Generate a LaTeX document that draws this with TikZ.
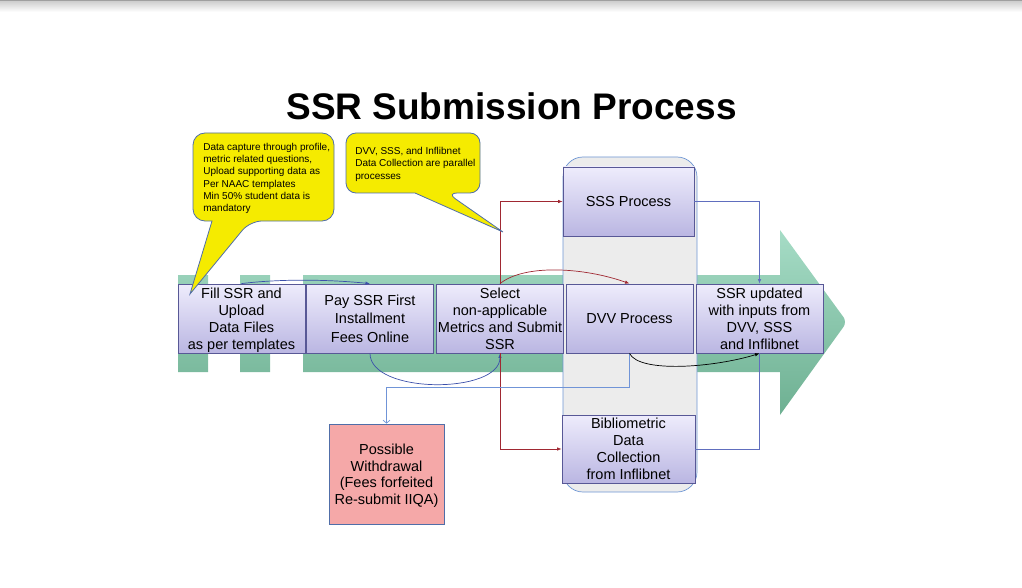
\documentclass[tikz,border=0pt]{standalone}
\usepackage{fontspec}
\setmainfont{Liberation Sans}
\usetikzlibrary{arrows.meta}
\definecolor{boxtop}{RGB}{238,236,252}
\definecolor{boxbot}{RGB}{186,182,226}
\definecolor{boxline}{RGB}{88,88,150}
\definecolor{bandtop}{RGB}{166,220,198}
\definecolor{bandbot}{RGB}{110,176,146}
\definecolor{panelfill}{RGB}{236,236,236}
\definecolor{panelline}{RGB}{110,150,212}
\definecolor{noteyellow}{RGB}{245,235,0}
\definecolor{noteline}{RGB}{80,110,168}
\definecolor{pinkfill}{RGB}{245,168,168}
\definecolor{flowblue}{RGB}{60,80,170}
\definecolor{flowred}{RGB}{160,40,50}
\definecolor{flowlight}{RGB}{112,148,215}
\definecolor{flowmid}{RGB}{96,110,190}

\begin{document}
\begin{tikzpicture}[x=1pt,y=-1pt,
    stage/.style={rectangle, draw=boxline, line width=0.8pt, top color=boxtop, bottom color=boxbot,
      minimum width=127pt, minimum height=69pt, inner sep=0pt, align=center, text depth=0pt,
      font=\fontsize{14.5}{17}\selectfont},
    note/.style={fill=noteyellow, draw=noteline, line width=0.8pt},
    notetext/.style={inner sep=0pt, align=left, anchor=north west},
    tip/.style={-{Latex[length=4.5pt,width=3.5pt]}},
    line width=0.7pt]
    \useasboundingbox (0,0) rectangle (1022,588);
    \fill[gray!75] (0,0) rectangle (1022,2);
    \shade[top color=gray!35, bottom color=white] (0,2) rectangle (1022,12);

    \node (title) at (511.5,106) {\fontsize{37}{44}\selectfont\bfseries SSR Submission Process};

    \shade[top color=bandtop, bottom color=bandbot]
      (178,275) rectangle (208,372)
      (240,275) rectangle (270,372)
      (303,275) -- (780,275) -- (780,230) [rounded corners=6pt] -- (847,322) [sharp corners] -- (780,415)
      -- (780,372) -- (303,372) -- cycle;

    \node (parallel) [rectangle, rounded corners=20pt, draw=panelline, fill=panelfill,
      minimum width=134pt, minimum height=335pt] at (630,324.5) {};

    \node (fill) [stage] at (241.5,318.5) {Fill SSR and\\Upload\\Data Files\\as per templates};
    \node (pay) [stage, font=\fontsize{14.5}{18.5}\selectfont] at (370,318.5) {Pay SSR First\\Installment\\Fees Online};
    \node (select) [stage] at (500,318.5) {Select\\non-applicable\\Metrics and Submit\\SSR};
    \node (dvv) [stage] at (629.5,318.5) {DVV Process};
    \node (sss) [stage, minimum width=131pt] at (628.5,201.5) {SSS Process};
    \node (updated) [stage] at (759.5,318.5) {SSR updated\\with inputs from\\DVV, SSS\\and Inflibnet};
    \node (biblio) [stage, minimum width=133pt, minimum height=68pt] at (628.5,449) {Bibliometric\\Data\\Collection\\from Inflibnet};
    \node (withdraw) [rectangle, draw=noteline, line width=0.8pt, fill=pinkfill, minimum width=115pt,
      minimum height=100pt, inner sep=0pt, align=center, text depth=0pt, font=\fontsize{14.5}{16.5}\selectfont]
      at (386.5,474) {Possible\\Withdrawal\\(Fees forfeited\\Re-submit IIQA)};

    \draw [tip, flowblue] (fill.north) .. controls +(40,-5) and +(-40,-4) .. (pay.north);
    \draw [tip, flowblue] (pay.south) .. controls +(0,41) and +(0,41) .. (select.south);
    \draw [tip, flowred] (select.north) |- (sss.west);
    \draw [tip, flowred] (select.south) |- (biblio.west);
    \draw [tip, flowred] (select.north) .. controls +(25,-20) and +(-45,-16) .. (dvv.north);
    \draw [-{Straight Barb[length=3pt,width=7pt]}, flowlight] (dvv.south) -- ++(0,34) -| (withdraw.north);
    \draw [tip, flowmid] (sss.east) -| (updated.north);
    \draw [flowmid] (biblio.east) -| (updated.south);
    \draw [tip, black] (dvv.south) .. controls +(10,20) and +(-45,14) .. (updated.south);

    \draw [note] (193,177) [rounded corners=12pt] -- (193,133) -- (334,133) -- (334,221) -- (250,221)
      [sharp corners] -- (190,294) -- (212,221) [rounded corners=12pt] -- (193,221) -- cycle;
    \node (noteData) [notetext, font=\fontsize{10}{12.2}\selectfont] at (203,143)
      {Data capture through profile,\\metric related questions,\\Upload supporting data as\\Per NAAC templates\\Min 50\% student data is\\mandatory};

    \draw [note] (346,163) [rounded corners=10pt] -- (346,133) -- (480,133) -- (480,193) -- (447,193)
      [sharp corners] -- (503,232) -- (415,193) [rounded corners=10pt] -- (346,193) -- cycle;
    \node (noteParallel) [notetext, font=\fontsize{10}{12.5}\selectfont] at (355,146.5)
      {DVV, SSS, and Inflibnet\\Data Collection are parallel\\processes};
\end{tikzpicture}
\end{document}
